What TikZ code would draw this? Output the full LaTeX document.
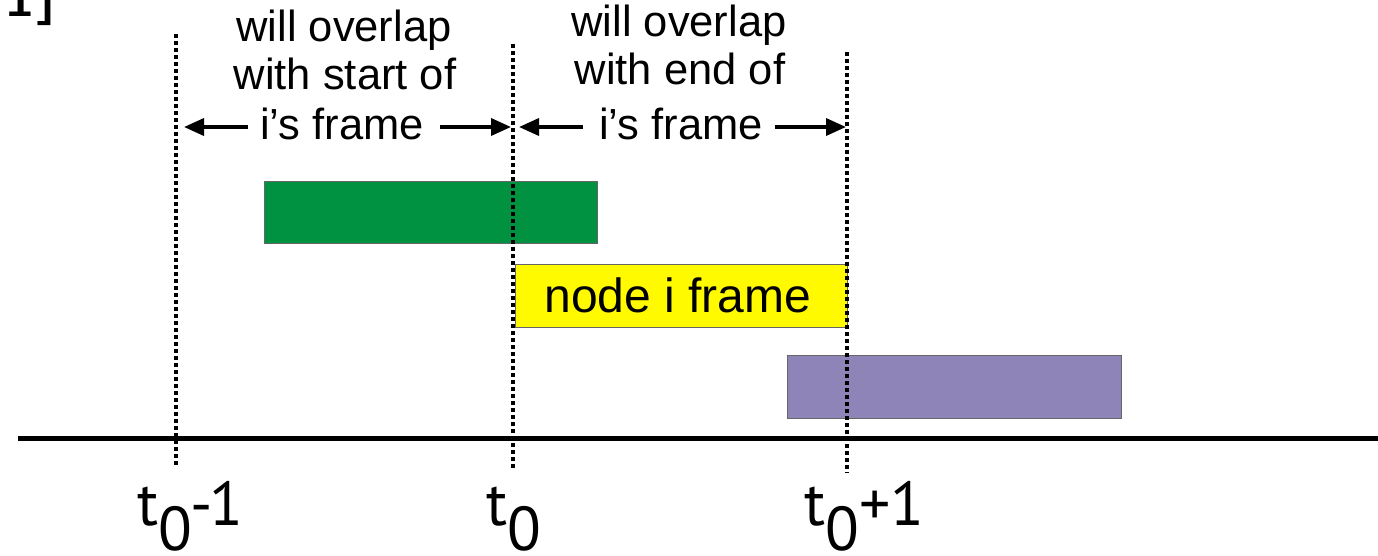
\documentclass[tikz,border=0pt]{standalone}
\usepackage{fontspec}
\setmainfont{Liberation Sans}
\newfontfamily\ptsans{PT Sans}
\newfontfamily\monobold{Liberation Mono}[BoldFont={Liberation Mono Bold}]
\usetikzlibrary{arrows.meta}
\definecolor{bargreen}{RGB}{0,146,64}
\definecolor{baryellow}{RGB}{255,250,0}
\definecolor{barpurple}{RGB}{143,132,184}
\tikzset{
  guide/.style={line width=3.5pt, dash pattern=on 4pt off 3pt},
  lbl/.style={anchor=base, inner sep=0pt, font=\fontsize{43.5}{47}\selectfont},
  tlbl/.style={anchor=base, inner sep=0pt, font=\ptsans\fontsize{62}{70}\selectfont},
  bar/.style={draw=black!60, line width=0.8pt, anchor=north west, inner sep=0pt},
  span/.style={line width=3.5pt, -{Triangle[length=20pt,width=17pt]}},
}
\begin{document}
\begin{tikzpicture}[x=1pt,y=-1pt]
\useasboundingbox (0,0) rectangle (1378,555);
\clip (0,0) rectangle (1378,555);
% fragment at top-left
\node[anchor=base west, inner sep=0pt, font=\monobold\bfseries\fontsize{44}{44}\selectfont] (frag) at (6,16) {1]};
% axis
\coordinate (axL) at (18,438);
\coordinate (axR) at (1380,438);
\draw[line width=5pt] (axL) -- (axR);
% guides
\coordinate (g1t) at (176,34); \coordinate (g1b) at (176,466);
\coordinate (g2t) at (513,44); \coordinate (g2b) at (513,470);
\coordinate (g3t) at (847,52); \coordinate (g3b) at (847,473);
% bars
\node[bar, fill=bargreen, minimum width=333pt, minimum height=62pt] (green) at (264,181) {};
\node[bar, fill=baryellow, minimum width=332pt, minimum height=63pt] (yellow) at (515,264) {};
\node[lbl, font=\fontsize{48}{52}\selectfont] (ylab) at (678,312) {node i frame};
\node[bar, fill=barpurple, minimum width=334pt, minimum height=63pt] (purple) at (787,355) {};
\draw[guide] (g1t) -- (g1b);
\draw[guide] (g2t) -- (g2b);
\draw[guide] (g3t) -- (g3b);
% labels top
\node[lbl] (a1) at (344,41) {will overlap};
\node[lbl] (a2) at (345,89) {with start of};
\node[lbl] (a3) at (342,139) {i’s frame};
\node[lbl] (b1) at (679,36) {will overlap};
\node[lbl] (b2) at (680,84) {with end of};
\node[lbl] (b3) at (681,139) {i’s frame};
\coordinate (a3l) at (248,127); \coordinate (a3r) at (440,127);
\coordinate (b3l) at (583,127); \coordinate (b3r) at (775,127);
\coordinate (g1m) at (184,127); \coordinate (g2ml) at (511,127);
\coordinate (g2mr) at (519,127); \coordinate (g3m) at (846,127);
\draw[span] (a3l) -- (g1m);
\draw[span] (a3r) -- (g2ml);
\draw[span] (b3l) -- (g2mr);
\draw[span] (b3r) -- (g3m);
% bottom labels
\node[tlbl, anchor=base west] (t1) at (137,525) {t\raisebox{-25pt}{0}\kern-2pt-\kern-3pt1};
\node[tlbl, anchor=base west] (t2) at (486,525) {t\raisebox{-25pt}{0}};
\node[tlbl, anchor=base west] (t3) at (804,525) {t\raisebox{-25pt}{0}+1};
\end{tikzpicture}
\end{document}
